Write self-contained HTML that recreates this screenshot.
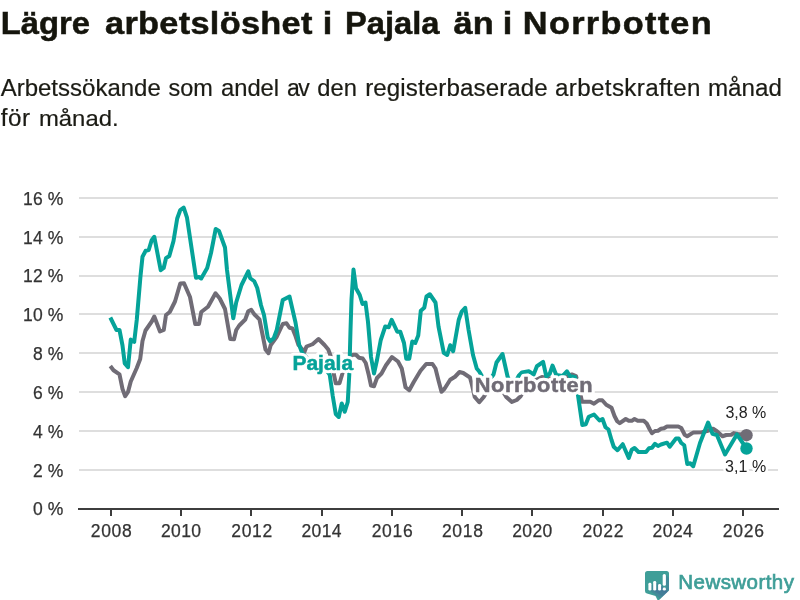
<!DOCTYPE html>
<html lang="sv">
<head>
<meta charset="utf-8">
<title>Lägre arbetslöshet i Pajala än i Norrbotten</title>
<style>
html,body{margin:0;padding:0;background:#fff;}
body{width:800px;height:600px;overflow:hidden;font-family:"Liberation Sans",sans-serif;}
svg{display:block;will-change:transform;}
text{font-family:"Liberation Sans",sans-serif;}
.title{font-weight:bold;font-size:31.5px;fill:#15150d;}
.sub{font-size:23px;fill:#1b1b14;}
.tick{font-size:17.5px;fill:#333;stroke:#333;stroke-width:0.25px;}
.ann{font-size:16px;fill:#222;}
.lbl{font-weight:bold;font-size:20px;}
.halo{stroke:#fff;stroke-width:5px;stroke-linejoin:round;fill:#fff;}
</style>
</head>
<body>
<svg width="800" height="600" viewBox="0 0 800 600">
<rect width="800" height="600" fill="#ffffff"/>
<text x="0.69" y="34.4" font-size="31.5px" font-weight="bold" fill="#15150d" style="letter-spacing:0.000px" transform="scale(1.0425,1)" stroke="#15150d" stroke-width="0.5">Lägre</text>
<text x="96.33" y="34.4" font-size="31.5px" font-weight="bold" fill="#15150d" style="letter-spacing:0.273px" transform="scale(1.0900,1)" stroke="#15150d" stroke-width="0.5">arbetslöshet</text>
<text x="296.14" y="34.4" font-size="31.5px" font-weight="bold" fill="#15150d" style="letter-spacing:0.000px" transform="scale(1.0900,1)" stroke="#15150d" stroke-width="0.5">i</text>
<text x="332.13" y="34.4" font-size="31.5px" font-weight="bold" fill="#15150d" style="letter-spacing:0.000px" transform="scale(1.0385,1)" stroke="#15150d" stroke-width="0.5">Pajala</text>
<text x="416.15" y="34.4" font-size="31.5px" font-weight="bold" fill="#15150d" style="letter-spacing:0.078px" transform="scale(1.0900,1)" stroke="#15150d" stroke-width="0.5">än</text>
<text x="461.28" y="34.4" font-size="31.5px" font-weight="bold" fill="#15150d" style="letter-spacing:0.000px" transform="scale(1.0900,1)" stroke="#15150d" stroke-width="0.5">i</text>
<text x="479.65" y="34.4" font-size="31.5px" font-weight="bold" fill="#15150d" style="letter-spacing:1.178px" transform="scale(1.0900,1)" stroke="#15150d" stroke-width="0.5">Norrbotten</text>
<text x="0.67" y="96.3" font-size="23px" fill="#1b1b14" style="letter-spacing:0.000px" transform="scale(1.0436,1)" stroke="#1b1b14" stroke-width="0.2">Arbetssökande</text>
<text x="164.86" y="96.3" font-size="23px" fill="#1b1b14" style="letter-spacing:-0.000px" transform="scale(1.0215,1)" stroke="#1b1b14" stroke-width="0.2">som</text>
<text x="213.89" y="96.3" font-size="23px" fill="#1b1b14" style="letter-spacing:0.000px" transform="scale(1.0332,1)" stroke="#1b1b14" stroke-width="0.2">andel</text>
<text x="287.00" y="96.3" font-size="23px" fill="#1b1b14" style="letter-spacing:-1.592px" stroke="#1b1b14" stroke-width="0.2">av</text>
<text x="307.70" y="96.3" font-size="23px" fill="#1b1b14" style="letter-spacing:0.000px" transform="scale(1.0311,1)" stroke="#1b1b14" stroke-width="0.2">den</text>
<text x="347.76" y="96.3" font-size="23px" fill="#1b1b14" style="letter-spacing:0.092px" transform="scale(1.0500,1)" stroke="#1b1b14" stroke-width="0.2">registerbaserade</text>
<text x="528.57" y="96.3" font-size="23px" fill="#1b1b14" style="letter-spacing:0.356px" transform="scale(1.0500,1)" stroke="#1b1b14" stroke-width="0.2">arbetskraften</text>
<text x="674.24" y="96.3" font-size="23px" fill="#1b1b14" style="letter-spacing:0.009px" transform="scale(1.0500,1)" stroke="#1b1b14" stroke-width="0.2">månad</text>
<text x="0.76" y="125.8" font-size="23px" fill="#1b1b14" style="letter-spacing:0.552px" transform="scale(1.0500,1)" stroke="#1b1b14" stroke-width="0.2">för</text>
<text x="37.51" y="125.8" font-size="23px" fill="#1b1b14" style="letter-spacing:0.000px" transform="scale(1.0387,1)" stroke="#1b1b14" stroke-width="0.2">månad.</text>
<g fill="#dedede" shape-rendering="crispEdges">
<rect x="79" y="469" width="699" height="2"/>
<rect x="79" y="430" width="699" height="2"/>
<rect x="79" y="391" width="699" height="2"/>
<rect x="79" y="352" width="699" height="2"/>
<rect x="79" y="313" width="699" height="2"/>
<rect x="79" y="275" width="699" height="2"/>
<rect x="79" y="236" width="699" height="2"/>
<rect x="79" y="197" width="699" height="2"/>
</g>
<g class="tick" text-anchor="end">
<text x="63.4" y="515.40" style="letter-spacing:0.1px">0 %</text>
<text x="63.4" y="476.56" style="letter-spacing:0.1px">2 %</text>
<text x="63.4" y="437.72" style="letter-spacing:0.1px">4 %</text>
<text x="63.4" y="398.88" style="letter-spacing:0.1px">6 %</text>
<text x="63.4" y="360.04" style="letter-spacing:0.1px">8 %</text>
<text x="63.4" y="321.20" style="letter-spacing:0.1px">10 %</text>
<text x="63.4" y="282.36" style="letter-spacing:0.1px">12 %</text>
<text x="63.4" y="243.52" style="letter-spacing:0.1px">14 %</text>
<text x="63.4" y="204.68" style="letter-spacing:0.1px">16 %</text>
</g>
<polyline fill="none" stroke="#706c76" stroke-width="4" stroke-linejoin="round" stroke-linecap="butt" points="110.3,366 113.5,370.25 119.5,374.3 122.5,389 125.2,396.2 128,392 130.75,381.5 136.75,368 140.2,359 142.5,341 145.5,330.5 151.75,321.5 154.3,316.5 160,331.5 163.75,330 166,315 169.75,312 175,301.5 180.25,283.5 184,283.2 190,297 195.25,324 199,324 201.25,312 208,306.75 215.5,293.25 219.75,298.5 225,309 230.25,339 234,339.3 236.25,330 239.25,325.5 245.25,319.5 248.25,311.25 251.25,309.75 254.25,314.25 259.5,319.5 262.5,334.5 265.5,349.5 268.5,353.25 270.75,345 276.75,336.75 282.75,324 286.5,323.25 289.5,327.75 292.5,328.5 295.5,336 298.5,345 304.5,351.75 306.5,346.5 312.5,344.25 318.5,339 324.5,345 328.25,349.5 330.5,355.5 333,370 335.75,383.25 339.5,383.25 341.75,375.75 344,368 347,362 350,357 353,354.75 356,354.75 359,357.75 362.75,358.5 365.75,363 368.75,375 371,385.5 374,386.25 377,378 381.5,373.5 386,365.25 392,357 398,361.5 401.75,368.5 405.5,387.25 409.25,390.25 413.75,382 420.5,370.75 426.2,364 432.5,364 435.5,368.5 438.5,380.5 441.5,391.75 444.5,388.75 450.2,379.75 455,376.75 459.5,372 463.25,373 470,377.5 472,385 474.75,397 479.25,402.25 483.75,397 488,390 493,385 498,385 502,390 506.25,397 511.9,401.9 516.75,400 520.6,396.25 524,390 530,384 536,380 541.9,377 548,378 555,380 562,379 568,376 571.9,374.4 576,376 579,388 582,401.75 590.25,401.75 594,403.7 598.75,400.25 602.2,400.25 606.25,404.75 611.5,407.75 614.5,416 617.2,421.25 619.75,423.2 625.75,419 628.75,420.8 631.75,420.8 634.5,419 637.75,420.8 643.75,420.8 646.75,423.5 649.75,429.5 652,433.25 655,431 658,430.7 661,428.75 664,428.3 667,426.5 678.25,426.5 681.25,428 684.7,434.75 687.25,436.25 693.5,432.4 701.9,432.25 707,431 713.1,428.75 716.9,431.25 722.5,436.25 726.25,435 731.25,434.75 733.75,433.1 738,434 746.5,435.25"/>
<circle cx="746.5" cy="435.2" r="6.2" fill="#706c76"/>
<polyline fill="none" stroke="#05a399" stroke-width="4" stroke-linejoin="round" stroke-linecap="butt" points="110.3,317.5 116.5,330 119.5,330 122.5,345.5 124.75,363.5 128,367.25 130.75,339.6 134.2,341.9 136.75,320 140.5,276 142.5,256.8 145.7,250.7 148.7,250 151.7,240.2 154.3,236.8 160.7,270.2 163.7,268 166,258.2 169.3,256 173.5,241 177.2,218.5 180.2,210.2 183.7,207.7 187,217.7 196,277.7 199,277 201.2,278.5 207.2,268 211,253 215.7,229 219,231 225,247.5 227,270 233.25,318.3 236.25,302.25 241.5,285 248.25,271.3 250.2,278.25 254.25,281.25 257.25,288 261,305.25 264,315 267.75,337.5 270,341.25 273.75,338.25 276.75,330 282.75,300 289.5,296.5 295.5,322.5 299.25,345 302.25,353.25 305,356 311,362 318,365 325,368 329.75,375 332.75,396 335.75,414 338.75,417 341.75,403.5 344.75,411.75 347.75,402 349.25,375 350.5,330 351.5,299.5 353.5,269.5 356,288.25 359.75,295 362.5,304 365.5,302.5 368,322 371,357 374,373.5 377,360 380.75,340 385.25,326.5 388.7,327.25 391.7,319.75 397.25,331.75 400.25,331.75 404,343 406.25,358.75 409.25,358.75 412.25,341.5 415.25,343 418.25,335.5 420.8,310.75 424.25,307.75 426.5,296.5 429.8,294.25 435.5,302.5 438.5,326.5 443.75,352.75 447.2,355 450.2,345.25 453.2,351.25 458.75,319.75 461.75,311.5 465.2,307.75 468.5,329.5 473,355 476.75,368.5 479.25,371.5 483,378 488,382 493.5,374.5 496.5,362.5 502.5,354 507.5,376.25 510,383 514,385 518.75,375.6 521.9,372.5 528.75,371.25 533.75,374.4 536.9,366.25 543.1,361.9 546.25,376.25 549.75,373.75 552.5,365.6 556.25,375 562.5,376 566.9,371.25 570,376.25 575,377 577.5,392 582.3,425 585.75,424.25 588.75,416.75 594,414.5 599.5,420.5 602.5,419 605.5,427.25 608.5,429.5 611.5,440 613.75,446.75 617.5,450.2 622.75,444.2 628.75,458 631.75,449.75 634.5,448 638.5,452 646,452 649,448.25 652,447.8 655,443.75 658,446 661,444.5 667,442.7 669.7,446.75 676,438.5 678.7,438.5 681.25,443 684.25,445.25 687.25,464 690.25,463.25 693.25,466.25 700,443 708.1,422.5 712.5,433.75 716.9,435 725,454.4 736.9,434.4 746.5,448.5"/>
<circle cx="746.5" cy="448.5" r="6.2" fill="#05a399"/>
<g fill="#3d3d3d" shape-rendering="crispEdges">
<rect x="78" y="508" width="701" height="2"/>
<rect x="110" y="509" width="2" height="7"/>
<rect x="180" y="509" width="2" height="7"/>
<rect x="250" y="509" width="2" height="7"/>
<rect x="321" y="509" width="2" height="7"/>
<rect x="391" y="509" width="2" height="7"/>
<rect x="461" y="509" width="2" height="7"/>
<rect x="531" y="509" width="2" height="7"/>
<rect x="602" y="509" width="2" height="7"/>
<rect x="672" y="509" width="2" height="7"/>
<rect x="742" y="509" width="2" height="7"/>
</g>
<text x="90.70" y="536.9" font-size="17.5px" fill="#333" style="letter-spacing:0.734px" stroke="#333" stroke-width="0.25">2008</text>
<text x="160.94" y="536.9" font-size="17.5px" fill="#333" style="letter-spacing:0.401px" stroke="#333" stroke-width="0.25">2010</text>
<text x="231.18" y="536.9" font-size="17.5px" fill="#333" style="letter-spacing:0.734px" stroke="#333" stroke-width="0.25">2012</text>
<text x="301.42" y="536.9" font-size="17.5px" fill="#333" style="letter-spacing:0.401px" stroke="#333" stroke-width="0.25">2014</text>
<text x="371.66" y="536.9" font-size="17.5px" fill="#333" style="letter-spacing:0.734px" stroke="#333" stroke-width="0.25">2016</text>
<text x="441.90" y="536.9" font-size="17.5px" fill="#333" style="letter-spacing:0.734px" stroke="#333" stroke-width="0.25">2018</text>
<text x="512.14" y="536.9" font-size="17.5px" fill="#333" style="letter-spacing:0.401px" stroke="#333" stroke-width="0.25">2020</text>
<text x="582.38" y="536.9" font-size="17.5px" fill="#333" style="letter-spacing:0.734px" stroke="#333" stroke-width="0.25">2022</text>
<text x="652.62" y="536.9" font-size="17.5px" fill="#333" style="letter-spacing:0.401px" stroke="#333" stroke-width="0.25">2024</text>
<text x="722.86" y="536.9" font-size="17.5px" fill="#333" style="letter-spacing:0.734px" stroke="#333" stroke-width="0.25">2026</text>
<text x="278.91" y="370.5" font-size="20px" font-weight="bold" fill="#fff" style="letter-spacing:0.000px" transform="scale(1.0485,1)" stroke="#fff" stroke-width="6.5" stroke-linejoin="round">Pajala</text>
<text x="278.91" y="370.5" font-size="20px" font-weight="bold" fill="#05a399" style="letter-spacing:0.000px" transform="scale(1.0485,1)" stroke="#05a399" stroke-width="0.5">Pajala</text>
<text x="435.51" y="392.2" font-size="20px" font-weight="bold" fill="#fff" style="letter-spacing:0.550px" transform="scale(1.0900,1)" stroke="#fff" stroke-width="6.5" stroke-linejoin="round">Norrbotten</text>
<text x="435.51" y="392.2" font-size="20px" font-weight="bold" fill="#706c76" style="letter-spacing:0.550px" transform="scale(1.0900,1)" stroke="#706c76" stroke-width="0.5">Norrbotten</text>
<text x="725.40" y="418.4" font-size="16px" fill="#fff" style="letter-spacing:-0.047px" stroke="#fff" stroke-width="5" stroke-linejoin="round">3,8 %</text>
<text x="725.40" y="418.4" font-size="16px" fill="#222" style="letter-spacing:-0.047px">3,8 %</text>
<text x="725.10" y="472.3" font-size="16px" fill="#fff" style="letter-spacing:0.028px" stroke="#fff" stroke-width="5" stroke-linejoin="round">3,1 %</text>
<text x="725.10" y="472.3" font-size="16px" fill="#222" style="letter-spacing:0.028px">3,1 %</text>
<g>
<defs><clipPath id="ic"><path d="M647.5,571 H666.5 Q669,571 669,573.5 V590.5 L658,601 L655.5,596 L647,593.5 Q645,593 645,591 V573.5 Q645,571 647.5,571 Z"/></clipPath></defs>
<path d="M647.5,571 H666.5 Q669,571 669,573.5 V590.5 L658,601 L655.5,596 L647,593.5 Q645,593 645,591 V573.5 Q645,571 647.5,571 Z" fill="#3f9e98"/>
<g clip-path="url(#ic)" fill="#4b4a9a" fill-opacity="0.22">
<polygon points="651.4,583.5 665,597.1 662,600.1 648.4,589.5 648.4,590.6 651.4,590.6"/>
<polygon points="656.2,581.6 672,597.4 669,600.4 653.2,590.6 656.2,590.6"/>
<polygon points="661.1,584.6 675,598.5 672,601.5 658.1,590.6 661.1,590.6"/>
<polygon points="665.9,574.8 680,588.9 680,600 662.7,590.6 665.9,590.6"/>
</g>
<g fill="#fff">
<rect x="648.4" y="582.8" width="3" height="7.8" rx="1.4"/>
<rect x="653.2" y="580.9" width="3" height="9.7" rx="1.4"/>
<rect x="658.1" y="583.9" width="3" height="6.7" rx="1.4"/>
<rect x="662.7" y="574.1" width="3.2" height="11.7" rx="1.5"/>
<rect x="662.7" y="587.5" width="3.2" height="3.1" rx="1.4"/>
</g>
<text x="678.30" y="588.7" font-size="20.5px" fill="#3f9e98" style="letter-spacing:0.446px" stroke="#3f9e98" stroke-width="0.7">Newsworthy</text>
</g>
</svg>
</body>
</html>
